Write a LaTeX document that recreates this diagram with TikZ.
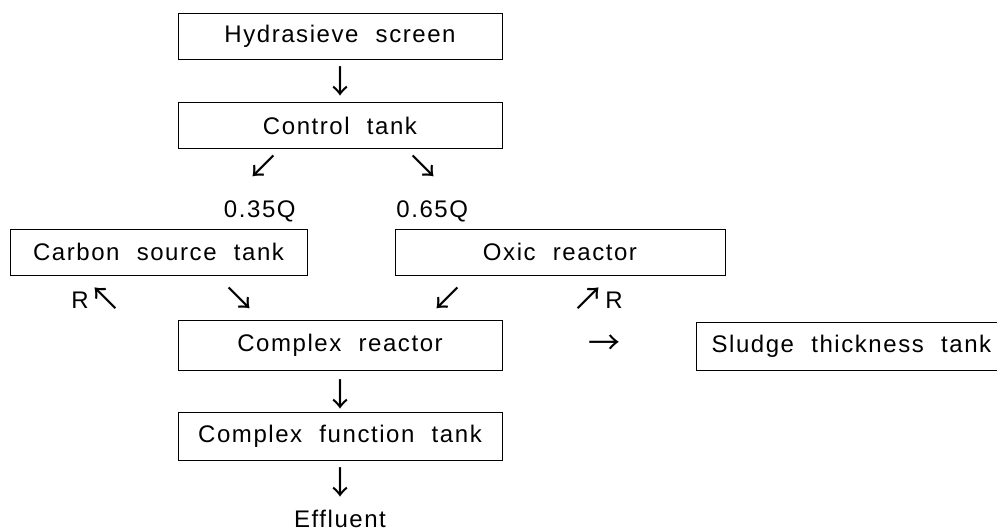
\documentclass[tikz,border=0pt]{standalone}
\usepackage{fontspec}
\setmainfont{Liberation Sans}[LetterSpace=6.5,WordSpace=2.1]
\newfontfamily\arrowfont{Noto Sans CJK KR}
\tikzset{
    tankbox/.style={draw, thin, minimum height=23pt, inner sep=0pt, font=\fontsize{12}{14}\selectfont},
    flowtext/.style={inner sep=0pt, font=\fontsize{12}{14}\selectfont},
    flowarrow/.style={inner sep=0pt, font=\arrowfont\fontsize{16}{17}\selectfont}
}
\begin{document}
\begin{tikzpicture}[x=0.5pt, y=-0.5pt]
    \useasboundingbox (0,0) rectangle (997,530);

    % main line
    \node[tankbox, minimum width=162pt] (screen) at (340,36.5) {Hydrasieve screen};
    \node[flowarrow] (a1) at (340,81) {↓};
    \node[tankbox, minimum width=162pt] (control) at (340,125.5) {Control tank};

    % split of the flow
    \node[flowarrow] (a2) at (263,167) {↙};
    \node[flowarrow] (a3) at (423,167) {↘};
    \node[flowtext, anchor=east] (q1) at (296,211) {0.35Q};
    \node[flowtext, anchor=west] (q2) at (396,211) {0.65Q};

    \node[tankbox, minimum width=148.5pt] (carbon) at (158.5,252) {Carbon source tank};
    \node[tankbox, minimum width=165pt] (oxic) at (560,252) {Oxic reactor};

    % return lines
    \node[flowtext] (r1) at (80,300) {R};
    \node[flowarrow] (a4) at (105,299) {↖};
    \node[flowarrow] (a5) at (239,299) {↘};
    \node[flowarrow] (a6) at (447,299) {↙};
    \node[flowarrow] (a7) at (588,299) {↗};
    \node[flowtext] (r2) at (614,300) {R};

    \node[tankbox, minimum width=162pt, minimum height=25pt] (complex) at (340,345) {Complex reactor};
    \node[flowarrow] (a8) at (604,345) {→};
    \node[tankbox, minimum width=155pt, minimum height=24pt, anchor=west] (sludge) at (696,346) {Sludge thickness tank};

    \node[flowarrow] (a9) at (340,394) {↓};
    \node[tankbox, minimum width=162pt, minimum height=24pt] (function) at (340,436) {Complex function tank};
    \node[flowarrow] (a10) at (340,482) {↓};
    \node[flowtext] (out) at (340,519) {Effluent};
\end{tikzpicture}
\end{document}
